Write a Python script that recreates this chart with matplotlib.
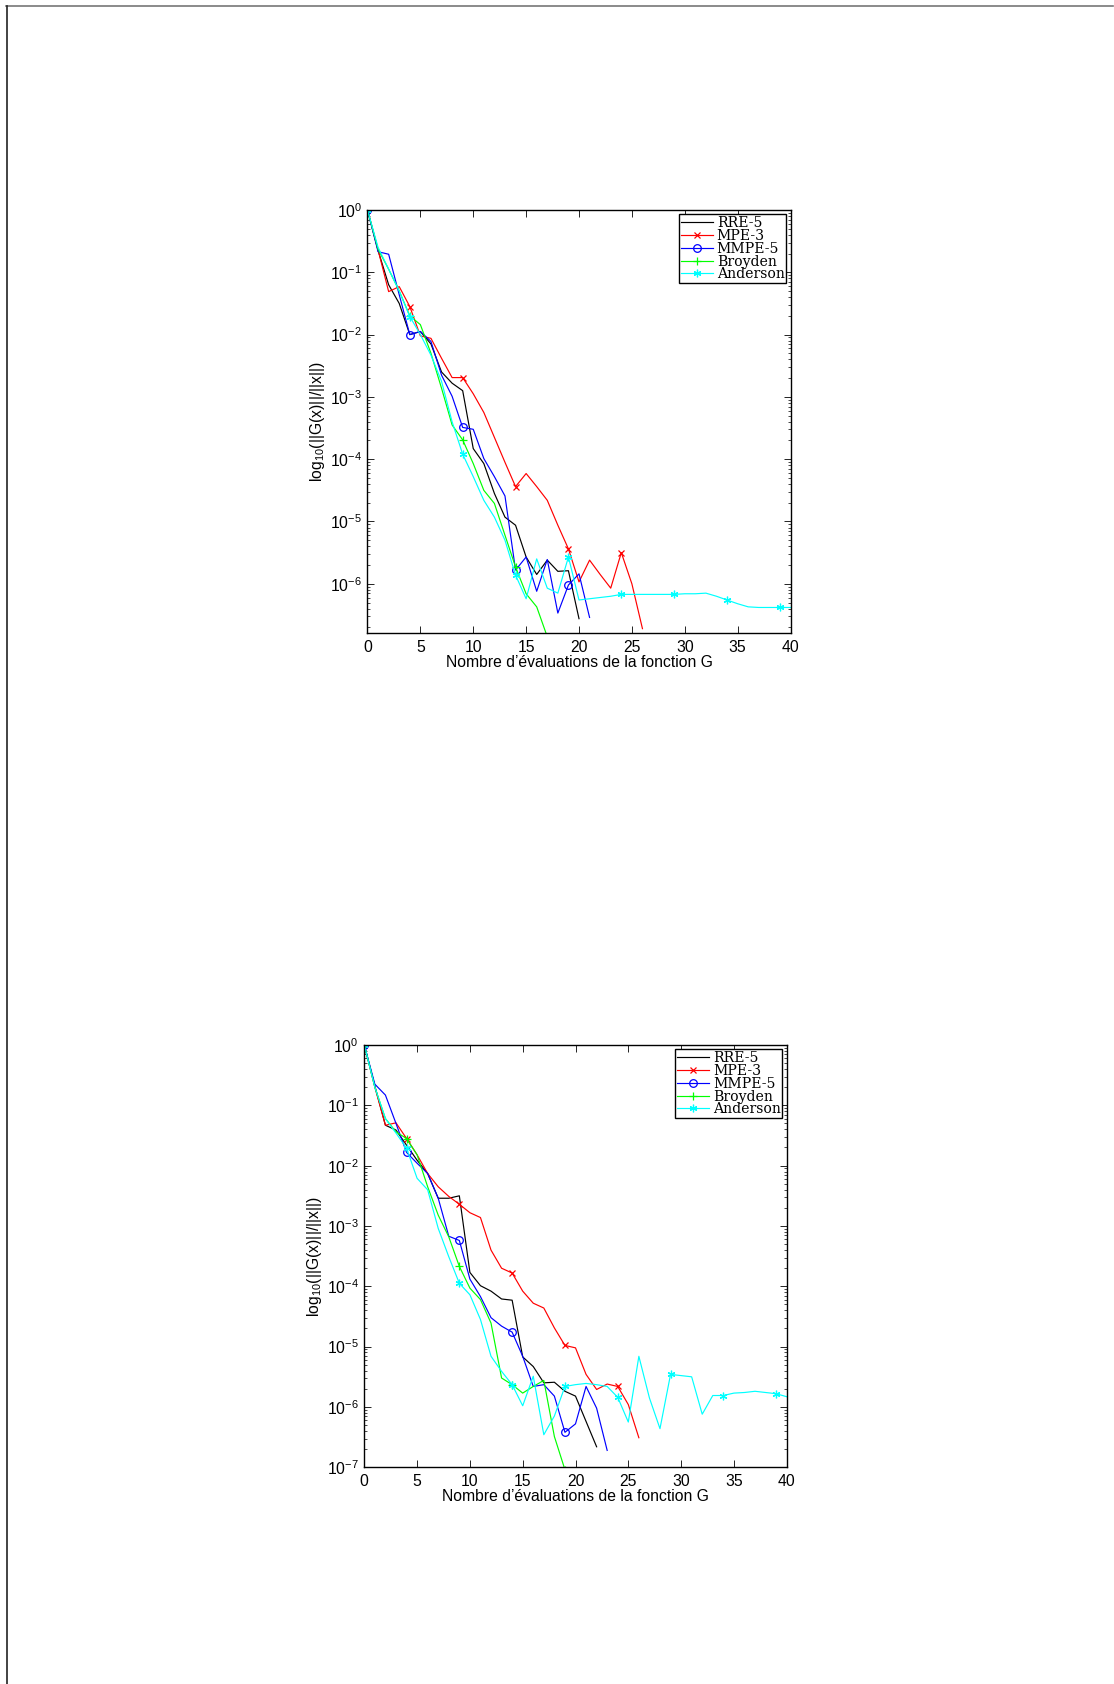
import numpy as np
import matplotlib
matplotlib.use("Agg")
import matplotlib.pyplot as plt
from matplotlib.lines import Line2D
from matplotlib.ticker import LogLocator, FixedLocator, NullFormatter, LogFormatterSciNotation

plt.rcParams['font.family'] = ['Liberation Sans', 'DejaVu Sans']
plt.rcParams['mathtext.fontset'] = 'custom'
plt.rcParams['mathtext.rm'] = 'Liberation Sans'
plt.rcParams['mathtext.it'] = 'Liberation Sans:italic'
plt.rcParams['mathtext.bf'] = 'Liberation Sans:bold'

labels = ["RRE-5", "MPE-3", "MMPE-5", "Broyden", "Anderson"]
colors = ["#000000", "#ff0000", "#0000ff", "#00ff00", "#00ffff"]
markers = ["", "x", "o", "+", (6, 2, 0)]

# ---- top panel: log10 of residual, x = 0,1,2,...
top_rre5 = [0, -0.65, -1.2, -1.5, -2.0, -1.95, -2.15, -2.6, -2.78, -2.9, -3.83, -4.07, -4.55,
            -4.93, -5.06, -5.57, -5.85, -5.62, -5.8, -5.79, -6.56]
top_mpe3 = [0, -0.64, -1.31, -1.23, -1.55, -2.02, -2.06, -2.38, -2.69, -2.69, -2.95, -3.25, -3.65,
            -4.05, -4.44, -4.23, -4.44, -4.66, -5.06, -5.44, -5.97, -5.62, -5.85, -6.07, -5.5,
            -6.0, -6.72]
top_mmpe5 = [0, -0.67, -0.71, -1.36, -2.0, -1.95, -2.11, -2.65, -2.99, -3.49, -3.52, -3.99, -4.28,
             -4.59, -5.78, -5.57, -6.12, -5.61, -6.47, -6.02, -5.84, -6.54]
top_broyden = [0, -0.63, -0.95, -1.3, -1.7, -1.84, -2.3, -2.86, -3.45, -3.69, -4.07, -4.5, -4.71,
               -5.22, -5.73, -6.16, -6.37, -6.85]
top_anderson = [0, -0.6, -0.95, -1.3, -1.71, -2.0, -2.33, -2.75, -3.4, -3.92, -4.28, -4.66, -4.93,
                -5.3, -5.86, -6.24, -5.6, -6.07, -6.15, -5.57, -6.26, -6.24, -6.22, -6.2, -6.17,
                -6.17, -6.17, -6.17, -6.17, -6.17, -6.16, -6.16, -6.15, -6.2, -6.26, -6.32, -6.37,
                -6.38, -6.38, -6.38, -6.38]

# ---- bottom panel
bot_rre5 = [0, -0.68, -1.33, -1.41, -1.66, -1.91, -2.13, -2.54, -2.54, -2.5, -3.77, -3.99, -4.08,
            -4.21, -4.23, -5.17, -5.33, -5.6, -5.59, -5.74, -5.82, -6.24, -6.66]
bot_mpe3 = [0, -0.7, -1.33, -1.29, -1.55, -1.82, -2.13, -2.35, -2.51, -2.64, -2.78, -2.86, -3.4,
            -3.7, -3.78, -4.08, -4.28, -4.36, -4.69, -4.98, -5.02, -5.46, -5.71, -5.62, -5.66,
            -5.96, -6.51]
bot_mmpe5 = [0, -0.65, -0.83, -1.3, -1.78, -1.96, -2.13, -2.54, -3.17, -3.24, -3.88, -4.17, -4.52,
             -4.66, -4.76, -5.16, -5.66, -5.63, -5.82, -6.42, -6.28, -5.66, -6.02, -6.72]
bot_broyden = [0, -0.7, -1.22, -1.44, -1.55, -1.82, -2.35, -2.82, -3.18, -3.67, -4.03, -4.22, -4.61,
               -5.52, -5.63, -5.77, -5.66, -5.56, -6.49, -7.04]
bot_anderson = [0, -0.7, -1.22, -1.46, -1.71, -2.21, -2.4, -3.04, -3.51, -3.95, -4.14, -4.55, -5.16,
                -5.41, -5.63, -5.98, -5.49, -6.46, -6.15, -5.66, -5.63, -5.61, -5.63, -5.66, -5.84,
                -6.25, -5.16, -5.85, -6.36, -5.46, -5.48, -5.5, -6.12, -5.81, -5.81, -5.77, -5.76,
                -5.74, -5.76, -5.78, -5.83]

marker_idx = [0, 4, 9, 14, 19, 24, 29, 34, 39]
xticks = [0, 5, 10, 15, 20, 25, 30, 35, 40]

FS = 11.3

fig = plt.figure(figsize=(11.14, 16.84), dpi=100)

# page border
fig.add_artist(Line2D([6 / 1114, 1113 / 1114], [1 - 6 / 1684, 1 - 6 / 1684], color="#777777", lw=1.2))
fig.add_artist(Line2D([6.5 / 1114, 6.5 / 1114], [0, 1 - 6 / 1684], color="#222222", lw=1.2))


def panel(rect, series, ymin, yticks_exp):
    ax = fig.add_axes(rect)
    for vals, lab, col, mk in zip(series, labels, colors, markers):
        y = 10.0 ** np.array(vals)
        x = np.arange(len(y))
        me = [i for i in marker_idx if i < len(y)]
        kw = dict(color=col, lw=0.85, label=lab)
        if mk != "":
            ms = {"x": 4, "o": 5.5, "+": 6}.get(mk, 5.5) if isinstance(mk, str) else 5.5
            kw.update(marker=mk, markevery=me, ms=ms, mew=0.9)
            if mk == "o":
                kw.update(mfc="none")
        ax.plot(x, y, **kw)
    ax.set_yscale("log")
    ax.set_xlim(0, 40)
    ax.set_ylim(ymin, 1)
    ax.set_xticks(xticks)
    ax.yaxis.set_major_locator(FixedLocator([10.0 ** e for e in yticks_exp]))
    ax.yaxis.set_major_formatter(LogFormatterSciNotation())
    ax.yaxis.set_minor_locator(LogLocator(base=10, subs=np.arange(2, 10), numticks=20))
    ax.yaxis.set_minor_formatter(NullFormatter())
    ax.tick_params(which="both", direction="in", top=True, right=True, labelsize=FS)
    ax.tick_params(which="major", length=5, width=0.6, pad=4)
    ax.tick_params(axis="x", which="major", pad=5)
    ax.tick_params(which="minor", length=2.5, width=0.5)
    for s in ax.spines.values():
        s.set_linewidth(1.0)
    ax.set_xlabel("Nombre d’évaluations de la fonction G", fontsize=FS, labelpad=0)
    ax.set_ylabel(r"log$_{10}$(||G(x)||/||x||)", fontsize=FS, labelpad=2)
    leg = ax.legend(loc="upper right", prop={"family": "DejaVu Serif", "size": 10.1},
                    frameon=True, fancybox=False, framealpha=1, edgecolor="black",
                    borderaxespad=0.3, borderpad=0.12, labelspacing=-0.08, handlelength=2.3,
                    handletextpad=0.25)
    leg.get_frame().set_linewidth(1.0)
    return ax


panel([367.5 / 1114, 1 - 632.7 / 1684, 423.0 / 1114, 422.7 / 1684],
      [top_rre5, top_mpe3, top_mmpe5, top_broyden, top_anderson],
      10 ** -6.785, [0, -1, -2, -3, -4, -5, -6])

panel([364.3 / 1114, 1 - 1467.3 / 1684, 422.4 / 1114, 422.3 / 1684],
      [bot_rre5, bot_mpe3, bot_mmpe5, bot_broyden, bot_anderson],
      1e-7, [0, -1, -2, -3, -4, -5, -6, -7])

fig.savefig("out.png", dpi=100)
